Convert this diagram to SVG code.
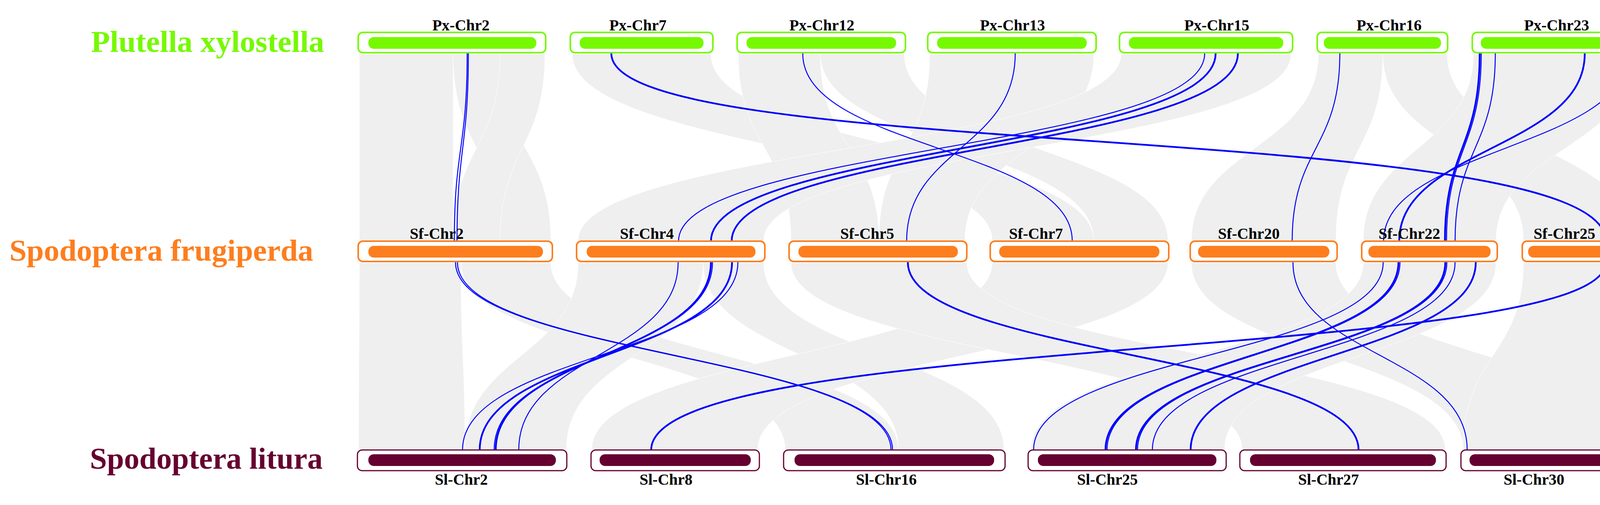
<svg xmlns="http://www.w3.org/2000/svg" width="4246" height="1294" viewBox="0 0 4246 1294">
<style>
.rib{fill:#efefef;stroke:#ffffff;stroke-width:1}
.bl{fill:none;stroke:#0000ff;stroke-width:2.5}
.bt{fill:none;stroke:#0000ff;stroke-width:4.5}
.lab{font-family:"Liberation Serif",serif;font-weight:bold;font-size:40px;fill:#000;text-anchor:middle}
.sp{font-family:"Liberation Serif",serif;font-weight:bold;font-size:78px}
.px rect.o{fill:#fff;stroke:#76f900;stroke-width:4}
.px rect.i{fill:#76f900}
.sf rect.o{fill:#fff;stroke:#fd7e1e;stroke-width:4}
.sf rect.i{fill:#fd7e1e}
.sl rect.o{fill:#fff;stroke:#650030;stroke-width:3}
.sl rect.i{fill:#650030}
</style>
<g id="ribbons">
<path class="rib" d="M920 138 C920 380,920 380,920 617 L1160 617 C1160 380,1160 380,1160 138 Z"/>
<path class="rib" d="M1160 138 C1160 380,1280 380,1280 617 L1410 617 C1410 380,1280 380,1280 138 Z"/>
<path class="rib" d="M1280 138 C1280 380,1160 380,1160 617 L1280 617 C1280 380,1395 380,1395 138 Z"/>
<path class="rib" d="M1465 138 C1465 380,2540 380,2540 617 L2800 617 C2800 380,1820 380,1820 138 Z"/>
<path class="rib" d="M1890 138 C1890 380,2025 380,2025 617 L2250 617 C2250 380,2100 380,2100 138 Z"/>
<path class="rib" d="M2100 138 C2100 380,2800 380,2800 617 L2990 617 C2990 380,2315 380,2315 138 Z"/>
<path class="rib" d="M2380 138 C2380 380,2250 380,2250 617 L2470 617 C2470 380,2800 380,2800 138 Z"/>
<path class="rib" d="M2870 138 C2870 380,1480 380,1480 617 L1955 617 C1955 380,3305 380,3305 138 Z"/>
<path class="rib" d="M3375 138 C3375 380,3050 380,3050 617 L3420 617 C3420 380,3540 380,3540 138 Z"/>
<path class="rib" d="M3540 138 C3540 380,3900 380,3900 617 L4185 617 C4185 380,3705 380,3705 138 Z"/>
<path class="rib" d="M3772 138 C3772 380,3490 380,3490 617 L3830 617 C3830 380,4185 380,4185 138 Z"/>
<path class="rib" d="M920 673 C920 910,918 910,918 1152 L1190 1152 C1190 910,1180 910,1180 673 Z"/>
<path class="rib" d="M1180 673 C1180 910,2010 910,2010 1152 L2300 1152 C2300 910,1410 910,1410 673 Z"/>
<path class="rib" d="M1480 673 C1480 910,1190 910,1190 1152 L1450 1152 C1450 910,1800 910,1800 673 Z"/>
<path class="rib" d="M1800 673 C1800 910,2300 910,2300 1152 L2570 1152 C2570 910,1955 910,1955 673 Z"/>
<path class="rib" d="M2540 673 C2540 910,1515 910,1515 1152 L1940 1152 C1940 910,2990 910,2990 673 Z"/>
<path class="rib" d="M2025 673 C2025 910,3180 910,3180 1152 L3700 1152 C3700 910,2475 910,2475 673 Z"/>
<path class="rib" d="M3050 673 C3050 910,3745 910,3745 1152 L4185 1152 C4185 910,3420 910,3420 673 Z"/>
<path class="rib" d="M3490 673 C3490 910,2640 910,2640 1152 L3135 1152 C3135 910,3830 910,3830 673 Z"/>
<path class="rib" d="M3900 673 C3900 910,3745 910,3745 1152 L4185 1152 C4185 910,4185 910,4185 673 Z"/>
</g>
<g id="connectors">
<path class="bl" d="M1196 137 C1196 380,1163 380,1163 618"/>
<path class="bl" d="M1199 137 C1199 380,1170 380,1170 618"/>
<path class="bt" d="M1565 137 C1565 420,4111 300,4111 618"/>
<path class="bl" d="M2055 137 C2055 380,2745 380,2745 618"/>
<path class="bl" d="M2599 137 C2599 380,2321 380,2321 618"/>
<path class="bl" d="M3084 137 C3084 380,1737 380,1737 618"/>
<path class="bt" d="M3112 137 C3112 380,1820 380,1820 618"/>
<path class="bt" d="M3169 137 C3169 380,1873 380,1873 618"/>
<path class="bl" d="M3430 137 C3430 380,3308 380,3308 618"/>
<path class="bt" d="M3788 137 C3788 380,3699 380,3699 618"/>
<path class="bl" d="M3792 137 C3792 380,3703 380,3703 618"/>
<path class="bl" d="M3828 137 C3828 380,3725 380,3725 618"/>
<path class="bt" d="M4057 137 C4057 380,3582 380,3582 618"/>
<path class="bl" d="M4168 137 C4168 380,3542 380,3542 618"/>
<path class="bl" d="M1166 672 C1166 910,2281 910,2281 1153"/>
<path class="bl" d="M1171 672 C1171 910,2285 910,2285 1153"/>
<path class="bt" d="M2324 672 C2324 910,3478 910,3478 1153"/>
<path class="bl" d="M1736 672 C1736 910,1328 910,1328 1153"/>
<path class="bt" d="M1820 672 C1820 910,1269 910,1269 1153"/>
<path class="bl" d="M1824 672 C1824 910,1265 910,1265 1153"/>
<path class="bt" d="M1874 672 C1874 910,1228 910,1228 1153"/>
<path class="bl" d="M1889 672 C1889 910,1184 910,1184 1153"/>
<path class="bt" d="M4111 672 C4111 930,1667 850,1667 1153"/>
<path class="bl" d="M3310 672 C3310 910,3756 910,3756 1153"/>
<path class="bl" d="M3541 672 C3541 910,2646 910,2646 1153"/>
<path class="bt" d="M3580 672 C3580 910,2830 910,2830 1153"/>
<path class="bl" d="M3584 672 C3584 910,2834 910,2834 1153"/>
<path class="bt" d="M3700 672 C3700 910,2908 910,2908 1153"/>
<path class="bl" d="M3704 672 C3704 910,2912 910,2912 1153"/>
<path class="bl" d="M3725 672 C3725 910,2950 910,2950 1153"/>
<path class="bt" d="M3778 672 C3778 910,3048 910,3048 1153"/>
</g>
<g id="species">
<text class="sp" x="233" y="133" fill="#76f900" textLength="597" lengthAdjust="spacingAndGlyphs">Plutella xylostella</text>
<text class="sp" x="24" y="668" fill="#fd7e1e" textLength="778" lengthAdjust="spacingAndGlyphs">Spodoptera frugiperda</text>
<text class="sp" x="230" y="1201" fill="#650030" textLength="596" lengthAdjust="spacingAndGlyphs">Spodoptera litura</text>
</g>
<g class="px">
<g id="px-chr2"><rect class="o" x="917" y="83" width="480" height="52" rx="12"/><rect class="i" x="943" y="95" width="430" height="30" rx="14"/><text class="lab" x="1180" y="78">Px-Chr2</text></g>
<g id="px-chr7"><rect class="o" x="1460" y="83" width="365" height="52" rx="12"/><rect class="i" x="1484" y="95" width="317" height="30" rx="14"/><text class="lab" x="1633" y="78">Px-Chr7</text></g>
<g id="px-chr12"><rect class="o" x="1887" y="83" width="431" height="52" rx="12"/><rect class="i" x="1911" y="95" width="383" height="30" rx="14"/><text class="lab" x="2104" y="78">Px-Chr12</text></g>
<g id="px-chr13"><rect class="o" x="2375" y="83" width="431" height="52" rx="12"/><rect class="i" x="2399" y="95" width="383" height="30" rx="14"/><text class="lab" x="2592" y="78">Px-Chr13</text></g>
<g id="px-chr15"><rect class="o" x="2866" y="83" width="443" height="52" rx="12"/><rect class="i" x="2890" y="95" width="395" height="30" rx="14"/><text class="lab" x="3115" y="78">Px-Chr15</text></g>
<g id="px-chr16"><rect class="o" x="3372" y="83" width="334" height="52" rx="12"/><rect class="i" x="3389" y="95" width="300" height="30" rx="14"/><text class="lab" x="3556" y="78">Px-Chr16</text></g>
<g id="px-chr23"><rect class="o" x="3769" y="83" width="419" height="52" rx="12"/><rect class="i" x="3791" y="95" width="375" height="30" rx="14"/><text class="lab" x="3985" y="78">Px-Chr23</text></g>
</g>
<g class="sf">
<g id="sf-chr2"><rect class="o" x="917" y="618" width="497" height="52" rx="12"/><rect class="i" x="943" y="630" width="447" height="30" rx="14"/><text class="lab" x="1118" y="612">Sf-Chr2</text></g>
<g id="sf-chr4"><rect class="o" x="1476" y="618" width="482" height="52" rx="12"/><rect class="i" x="1502" y="630" width="432" height="30" rx="14"/><text class="lab" x="1656" y="612">Sf-Chr4</text></g>
<g id="sf-chr5"><rect class="o" x="2020" y="618" width="455" height="52" rx="12"/><rect class="i" x="2044" y="630" width="408" height="30" rx="14"/><text class="lab" x="2220" y="612">Sf-Chr5</text></g>
<g id="sf-chr7"><rect class="o" x="2535" y="618" width="457" height="52" rx="12"/><rect class="i" x="2558" y="630" width="410" height="30" rx="14"/><text class="lab" x="2652" y="612">Sf-Chr7</text></g>
<g id="sf-chr20"><rect class="o" x="3047" y="618" width="376" height="52" rx="12"/><rect class="i" x="3067" y="630" width="336" height="30" rx="14"/><text class="lab" x="3197" y="612">Sf-Chr20</text></g>
<g id="sf-chr22"><rect class="o" x="3486" y="618" width="347" height="52" rx="12"/><rect class="i" x="3503" y="630" width="313" height="30" rx="14"/><text class="lab" x="3608" y="612">Sf-Chr22</text></g>
<g id="sf-chr25"><rect class="o" x="3897" y="618" width="291" height="52" rx="12"/><rect class="i" x="3912" y="630" width="261" height="30" rx="14"/><text class="lab" x="4005" y="612">Sf-Chr25</text></g>
</g>
<g class="sl">
<g id="sl-chr2"><rect class="o" x="915" y="1153" width="536" height="53" rx="12"/><rect class="i" x="943" y="1164" width="480" height="30" rx="14"/><text class="lab" x="1181" y="1242">Sl-Chr2</text></g>
<g id="sl-chr8"><rect class="o" x="1513" y="1153" width="431" height="53" rx="12"/><rect class="i" x="1535" y="1164" width="387" height="30" rx="14"/><text class="lab" x="1705" y="1242">Sl-Chr8</text></g>
<g id="sl-chr16"><rect class="o" x="2006" y="1153" width="567" height="53" rx="12"/><rect class="i" x="2034" y="1164" width="511" height="30" rx="14"/><text class="lab" x="2269" y="1242">Sl-Chr16</text></g>
<g id="sl-chr25"><rect class="o" x="2632" y="1153" width="507" height="53" rx="12"/><rect class="i" x="2657" y="1164" width="457" height="30" rx="14"/><text class="lab" x="2835" y="1242">Sl-Chr25</text></g>
<g id="sl-chr27"><rect class="o" x="3174" y="1153" width="528" height="53" rx="12"/><rect class="i" x="3200" y="1164" width="476" height="30" rx="14"/><text class="lab" x="3401" y="1242">Sl-Chr27</text></g>
<g id="sl-chr30"><rect class="o" x="3740" y="1153" width="449" height="53" rx="12"/><rect class="i" x="3762" y="1164" width="405" height="30" rx="14"/><text class="lab" x="3927" y="1242">Sl-Chr30</text></g>
</g>
</svg>
